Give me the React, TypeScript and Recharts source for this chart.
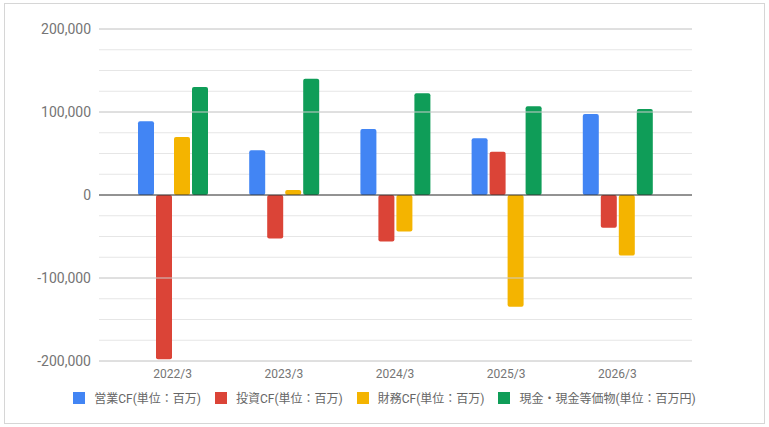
import {
  BarChart,
  Bar,
  XAxis,
  YAxis,
  CartesianGrid,
  ReferenceLine,
  Legend,
} from 'recharts';

const periods = ['2022/3', '2023/3', '2024/3', '2025/3', '2026/3'];
const operatingCF = [89000, 54000, 79500, 68500, 97500];
const investingCF = [-198000, -52500, -56000, 52000, -39500];
const financingCF = [70000, 6000, -44000, -134500, -73000];
const cashEquivalents = [130000, 140000, 122500, 107000, 103500];

const yTicks = [-200000, -175000, -150000, -125000, -100000, -75000, -50000, -25000, 0, 25000, 50000, 75000, 100000, 125000, 150000, 175000, 200000];
const majorTicks = [-200000, -100000, 100000, 200000];

const series = [
  { key: 'op', name: '営業CF(単位：百万)', color: '#4285F4' },
  { key: 'inv', name: '投資CF(単位：百万)', color: '#DB4437' },
  { key: 'fin', name: '財務CF(単位：百万)', color: '#F4B400' },
  { key: 'cash', name: '現金・現金等価物(単位：百万円)', color: '#0F9D58' },
];

const data = periods.map((p, i) => ({
  period: p,
  op: operatingCF[i],
  inv: investingCF[i],
  fin: financingCF[i],
  cash: cashEquivalents[i],
}));

const font = 'Roboto, "Noto Sans CJK JP", sans-serif';

const fmtTick = (v: number) => (v % 100000 === 0 ? v.toLocaleString('en-US') : '');

const LegendBox = () => (
  <div
    style={{
      display: 'flex',
      justifyContent: 'center',
      alignItems: 'center',
      fontFamily: font,
      fontSize: 12,
      color: '#666',
      gap: 14,
    }}
  >
    {series.map((s) => (
      <div key={s.key} style={{ display: 'flex', alignItems: 'center' }}>
        <span style={{ width: 12, height: 12, background: s.color, marginRight: 9, display: 'inline-block' }} />
        <span>{s.name}</span>
      </div>
    ))}
  </div>
);

const App = () => {
  return (
    <div style={{ position: 'absolute', left: 0, top: 0, width: 769, height: 427, background: '#fff' }}>
      <div
        style={{
          position: 'absolute',
          left: 4,
          top: 3,
          width: 759,
          height: 419,
          border: '1px solid #d6d6d6',
        }}
      />
      <BarChart
        width={769}
        height={427}
        data={data}
        margin={{ top: 29, right: 77, bottom: 36, left: 0 }}
        barSize={16}
        barGap={2}
        style={{ position: 'absolute', left: 0, top: 0 }}
      >
        <CartesianGrid vertical={false} stroke="#e6e6e6" />
        <XAxis
          dataKey="period"
          axisLine={false}
          tickLine={false}
          tickSize={0}
          tickMargin={8}
          height={30}
          padding={{ left: 18, right: 19 }}
          tick={{ fill: '#757575', fontSize: 12, fontFamily: font }}
        />
        <YAxis
          domain={[-200000, 200000]}
          ticks={yTicks}
          interval={0}
          tickFormatter={fmtTick}
          axisLine={false}
          tickLine={false}
          tickSize={0}
          tickMargin={8}
          width={99}
          tick={{ fill: '#757575', fontSize: 14, fontFamily: font }}
        />
        {majorTicks.map((t) => (
          <ReferenceLine key={t} y={t} stroke="#cccccc" />
        ))}
        {series.map((s) => (
          <Bar key={s.key} dataKey={s.key} name={s.name} fill={s.color} radius={2} isAnimationActive={false} />
        ))}
        <ReferenceLine y={0} stroke="#333333" />
        <Legend
          verticalAlign="middle"
          align="center"
          layout="horizontal"
          content={() => <LegendBox />}
          wrapperStyle={{ top: 389, left: 0, width: 769, height: 16 }}
        />
      </BarChart>
    </div>
  );
};

export default App;
